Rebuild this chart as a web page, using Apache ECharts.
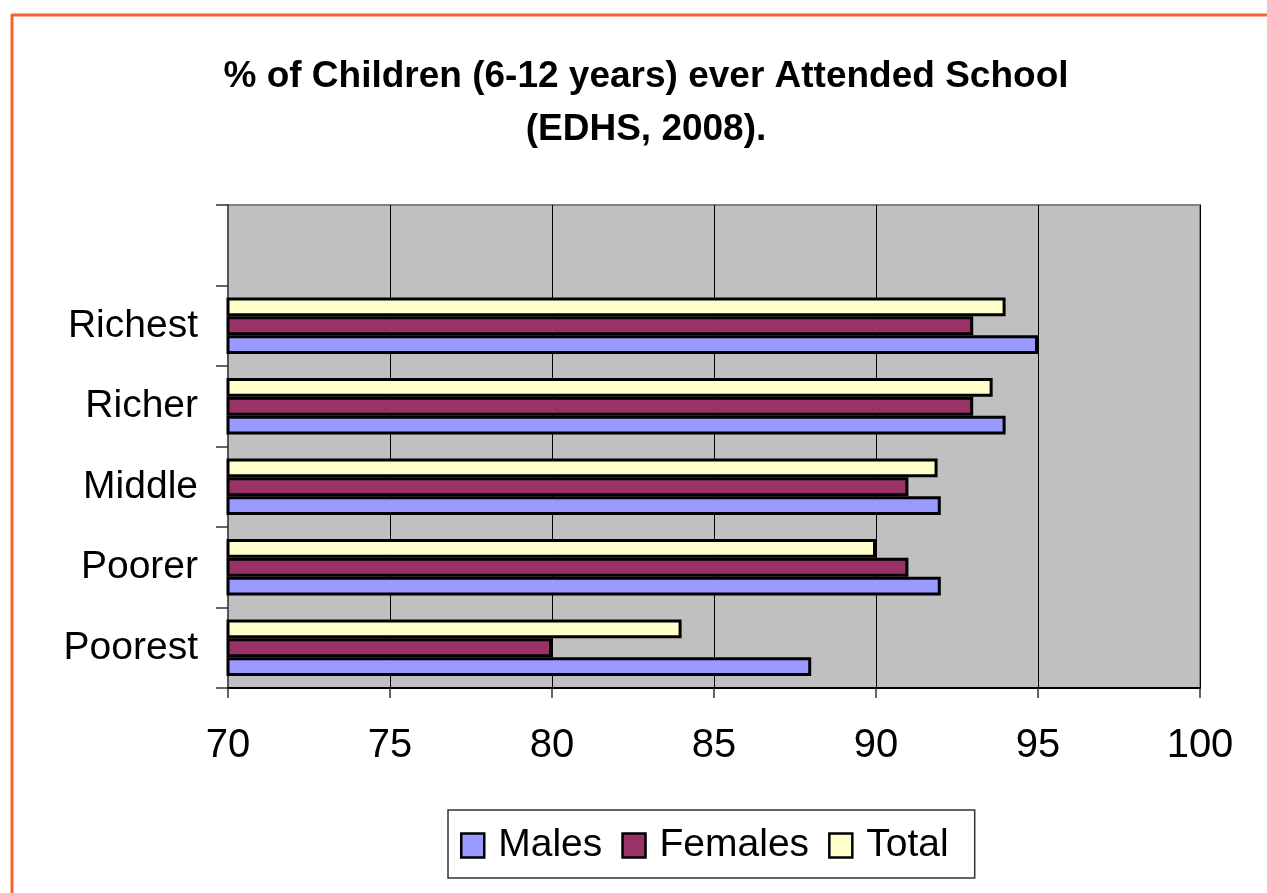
<!DOCTYPE html>
<html>
<head>
<meta charset="utf-8">
<script src="https://cdn.jsdelivr.net/npm/echarts@6/dist/echarts.min.js"></script>
<style>
html,body{margin:0;padding:0;background:#fff;}
#chart{width:1267px;height:893px;}
</style>
</head>
<body>
<div id="chart"></div>
<script>
const categories = ['Poorest', 'Poorer', 'Middle', 'Richer', 'Richest', ''];
const males = [88, 92, 92, 94, 95, null];
const females = [80, 91, 91, 93, 93, null];
const total = [84, 90, 91.9, 93.6, 94, null];
const xTicks = [70, 75, 80, 85, 90, 95, 100];
const legendNames = ['Males', 'Females', 'Total'];
const titleLines = ['% of Children (6-12 years) ever Attended School', '(EDHS, 2008).'];

const FONT = '"Liberation Sans", Arial, sans-serif';
const chart = echarts.init(document.getElementById('chart'), null, {renderer: 'canvas'});

function barSeries(name, data, color) {
  return {
    name: name,
    type: 'bar',
    data: data,
    barGap: '0%',
    barCategoryGap: '30%',
    itemStyle: {color: color, borderColor: '#000', borderWidth: 3},
    emphasis: {disabled: true}
  };
}

chart.setOption({
  animation: false,
  backgroundColor: '#fff',
  title: {
    text: titleLines.join('\n'),
    left: 641,
    top: 45,
    textAlign: 'center',
    textStyle: {fontFamily: FONT, fontWeight: 'bold', fontSize: 37, lineHeight: 53, color: '#000'}
  },
  graphic: [
    {type: 'line', shape: {x1: 12, y1: 15, x2: 1267, y2: 15}, style: {stroke: '#F26430', lineWidth: 3}, z: 100},
    {type: 'line', shape: {x1: 12, y1: 14, x2: 12, y2: 893}, style: {stroke: '#F26430', lineWidth: 3}, z: 100}
  ],
  grid: {
    left: 228, right: 67, top: 205, bottom: 205,
    show: true, backgroundColor: '#C0C0C0', borderColor: '#808080', borderWidth: 2
  },
  legend: {
    data: legendNames,
    left: 448, top: 810,
    padding: [16, 26, 13, 12],
    itemWidth: 23, itemHeight: 24, itemGap: 19,
    icon: 'rect',
    borderColor: '#333', borderWidth: 1.5,
    itemStyle: {borderColor: '#000', borderWidth: 2.5},
    textStyle: {fontFamily: FONT, fontSize: 39, color: '#000', padding: [0, 0, 0, 9]}
  },
  xAxis: {
    type: 'value',
    min: 70, max: 100, interval: 5,
    axisLine: {show: true, lineStyle: {color: '#000', width: 2}},
    axisTick: {show: true, length: 10, lineStyle: {color: '#333', width: 1.5}},
    axisLabel: {
      fontFamily: FONT, fontSize: 40, color: '#000', margin: 38,
      formatter: function (v) { return xTicks.indexOf(v) >= 0 ? String(v) : ''; }
    },
    splitLine: {show: true, lineStyle: {color: '#000', width: 1}}
  },
  yAxis: {
    type: 'category',
    data: categories,
    axisLine: {show: true, lineStyle: {color: '#555', width: 2}},
    axisTick: {show: true, length: 12, lineStyle: {color: '#333', width: 1.5}},
    axisLabel: {fontFamily: FONT, fontSize: 39, color: '#000', margin: 30},
    splitLine: {show: false}
  },
  series: [
    barSeries('Total', total, '#FFFFCC'),
    barSeries('Females', females, '#993366'),
    barSeries('Males', males, '#9999FF')
  ]
});
</script>
</body>
</html>
